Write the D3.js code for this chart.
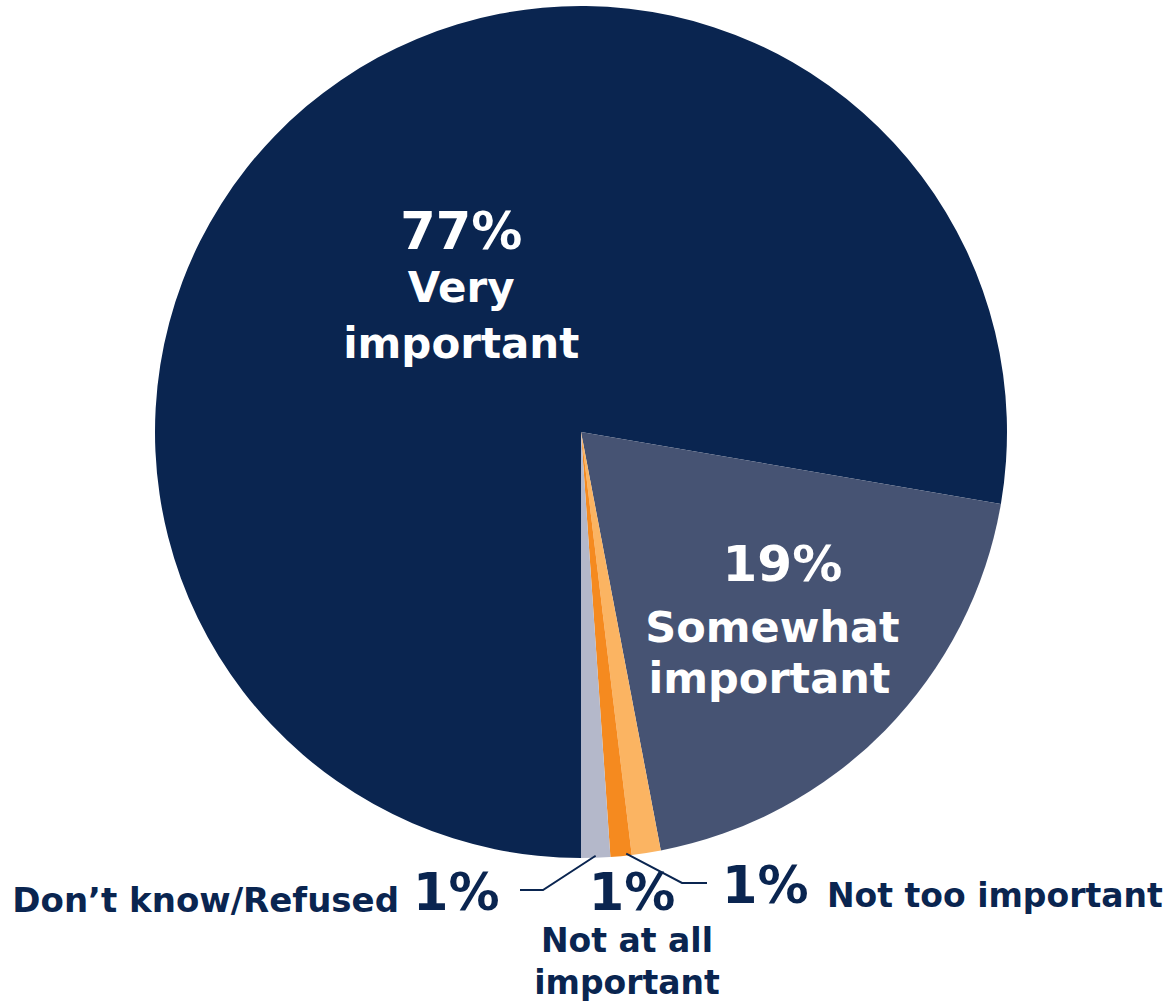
<!DOCTYPE html>
<html><head><meta charset="utf-8">
<script src="https://cdn.jsdelivr.net/npm/d3@7"></script>
<style>html,body{margin:0;padding:0;background:#fff;} svg{display:block;}</style>
</head><body>
<svg id="chart" width="1169" height="1004"></svg>
<script>
// ---- data ----
const categories = ["Very important", "Somewhat important", "Not too important", "Not at all important", "Don\u2019t know/Refused"];
const values = [77.7, 19.3, 1.1, 0.8, 1.1];
const valueLabels = ["77%", "19%", "1%", "1%", "1%"];
const colors = ["#0a2550", "#465373", "#fbb462", "#f58a1f", "#b4b8ca"];

// ---- layout ----
const W = 1169, H = 1004;
const cx = 581, cy = 432, R = 426;
const navy = "#0a2550";
const FONT = "'DejaVu Sans', Verdana, sans-serif";

const svg = d3.select("#chart");
const g = svg.append("g").attr("transform", `translate(${cx},${cy})`);

const pie = d3.pie().sort(null).value(d => d).startAngle(Math.PI).endAngle(3 * Math.PI);
const arcs = pie(values);
const arc = d3.arc().innerRadius(0).outerRadius(R);

g.selectAll("path.slice").data(arcs).enter().append("path")
  .attr("class", "slice")
  .attr("d", arc)
  .attr("fill", (d, i) => colors[i]);

// inside labels
function labelArc(r) { return d3.arc().innerRadius(r).outerRadius(r); }
const inside = [
  { i: 0, r: 178, dx: -5, lines: [{ t: valueLabels[0], s: 51, dy: -47, dx: 0 }, { t: "Very", s: 42, dy: 6, dx: 0 }, { t: "important", s: 42, dy: 62, dx: 0 }] },
  { i: 1, r: 271, dx: -4, lines: [{ t: valueLabels[1], s: 50, dy: -41, dx: 12 }, { t: "Somewhat", s: 43, dy: 20, dx: 2 }, { t: "important", s: 43, dy: 71, dx: -1 }] }
];
inside.forEach(lb => {
  const c = labelArc(lb.r).centroid(arcs[lb.i]);
  lb.lines.forEach(l => {
    g.append("text")
      .attr("x", c[0] + lb.dx + l.dx).attr("y", c[1] + l.dy)
      .attr("text-anchor", "middle")
      .attr("font-family", FONT).attr("font-weight", "bold")
      .attr("font-size", l.s).attr("fill", "#ffffff")
      .text(l.t);
  });
});

// outside labels with leader lines
function arcPoint(angle, r) { return [r * Math.sin(angle), -r * Math.cos(angle)]; }
const dk = arcs[4], naa = arcs[3], nti = arcs[2];

const line = d3.line();
// Don't know leader
const p0 = arcPoint((dk.startAngle + dk.endAngle) / 2, R - 2);
g.append("path").attr("d", line([p0, [543 - cx, 890 - cy], [520 - cx, 890 - cy]]))
  .attr("fill", "none").attr("stroke", navy).attr("stroke-width", 2);
// Not too important leader
const p1 = arcPoint(naa.startAngle + 0.25 * (naa.endAngle - naa.startAngle), R - 2);
g.append("path").attr("d", line([p1, [682 - cx, 883 - cy], [707 - cx, 883 - cy]]))
  .attr("fill", "none").attr("stroke", navy).attr("stroke-width", 2);

function txt(x, y, s, t, anchor) {
  svg.append("text").attr("x", x).attr("y", y)
    .attr("text-anchor", anchor || "start")
    .attr("font-family", FONT).attr("font-weight", "bold")
    .attr("font-size", s).attr("fill", navy).text(t);
}
// Don't know / Refused
txt(399, 912, 34, categories[4], "end");
txt(413, 910, 51, valueLabels[4], "start");
// Not at all important
txt(632, 910, 51, valueLabels[3], "middle");
txt(627, 952, 33, "Not at all", "middle");
txt(627, 994, 33, "important", "middle");
// Not too important
txt(722, 903, 51, valueLabels[2], "start");
txt(827, 907, 33, categories[2], "start");
</script>
</body></html>
